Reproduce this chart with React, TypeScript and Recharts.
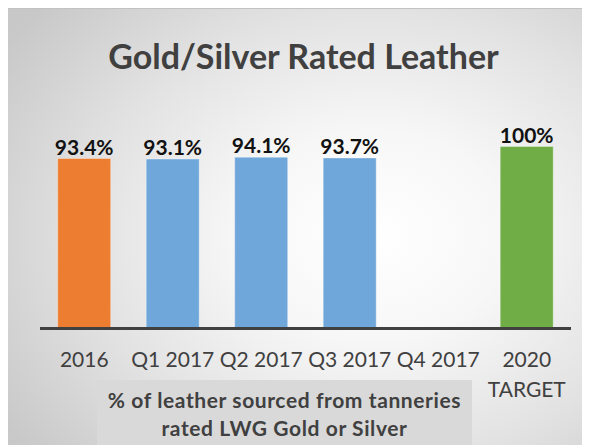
import { BarChart, Bar, XAxis, YAxis, Cell, LabelList } from "recharts";

const categories = ["2016", "Q1 2017", "Q2 2017", "Q3 2017", "Q4 2017", "2020\nTARGET"];
const rated = [93.4, 93.1, 94.1, 93.7, null, 100];
const barColors = ["#ed7d31", "#70a7da", "#70a7da", "#70a7da", "#70a7da", "#70ad47"];

const data = categories.map((name, i) => ({ name, value: rated[i] }));

const FONT = "Lato, 'Open Sans', sans-serif";
const GREY = "#404040";

const Tick = (props: any) => {
  const { x, payload } = props;
  const lines = String(payload.value).split("\n");
  return (
    <text x={x} y={358.5} textAnchor="middle" fill={GREY} fontSize={21} fontFamily={FONT}>
      {lines.map((l: string, i: number) => (
        <tspan key={i} x={x} dy={i === 0 ? 0 : 30}>
          {l}
        </tspan>
      ))}
    </text>
  );
};

const ValueLabel = (props: any) => {
  const { x, y, width, value } = props;
  if (value == null) return null;
  const txt = value === 100 ? "100%" : `${Number(value).toFixed(1)}%`;
  return (
    <text
      x={x + width / 2}
      y={y - 4}
      textAnchor="middle"
      fill="#111"
      fontSize={21}
      fontWeight="bold"
      fontFamily={FONT}
    >
      {txt}
    </text>
  );
};

export default function App() {
  return (
    <div
      style={{
        position: "relative",
        width: 590,
        height: 437,
        borderTop: "1px solid #c2c2c2",
        boxSizing: "border-box",
        background:
          "radial-gradient(ellipse 75% 80% at 62% 52%, #ffffff 0%, #f7f7f7 30%, #e2e2e2 65%, #c8c8c8 100%)",
        fontFamily: FONT,
      }}
    >
      <div
        style={{
          position: "absolute",
          left: 0,
          width: 591,
          top: 27,
          textAlign: "center",
          fontSize: 34,
          fontWeight: "bold",
          color: GREY,
          lineHeight: "40px",
        }}
      >
        Gold/Silver Rated Leather
      </div>
      <div style={{ position: "absolute", left: 0, top: -1 }}>
        <BarChart
          width={582}
          height={437}
          data={data}
          margin={{ top: 138.5, right: 19, bottom: 86.5, left: 32 }}
          barCategoryGap="20%"
        >
          <YAxis hide domain={[0, 100]} />
          <Bar dataKey="value" isAnimationActive={false} stroke="rgba(255,255,255,0.35)" strokeWidth={1}>
            {data.map((d, i) => (
              <Cell key={d.name} fill={barColors[i]} />
            ))}
            <LabelList dataKey="value" content={<ValueLabel />} />
          </Bar>
          <XAxis
            dataKey="name"
            axisLine={{ stroke: "#404040", strokeWidth: 3 }}
            tickLine={false}
            interval={0}
            tick={<Tick />}
          />
        </BarChart>
      </div>
      <div
        style={{
          position: "absolute",
          left: 89,
          top: 371,
          width: 375,
          height: 66,
          background: "#d9d9d9",
          color: GREY,
          fontSize: 21,
          letterSpacing: 0.6,
          fontWeight: "bold",
          textAlign: "center",
          lineHeight: "28px",
          paddingTop: 6,
          boxSizing: "border-box",
        }}
      >
        % of leather sourced from tanneries
        <br />
        rated LWG Gold or Silver
      </div>
    </div>
  );
}
